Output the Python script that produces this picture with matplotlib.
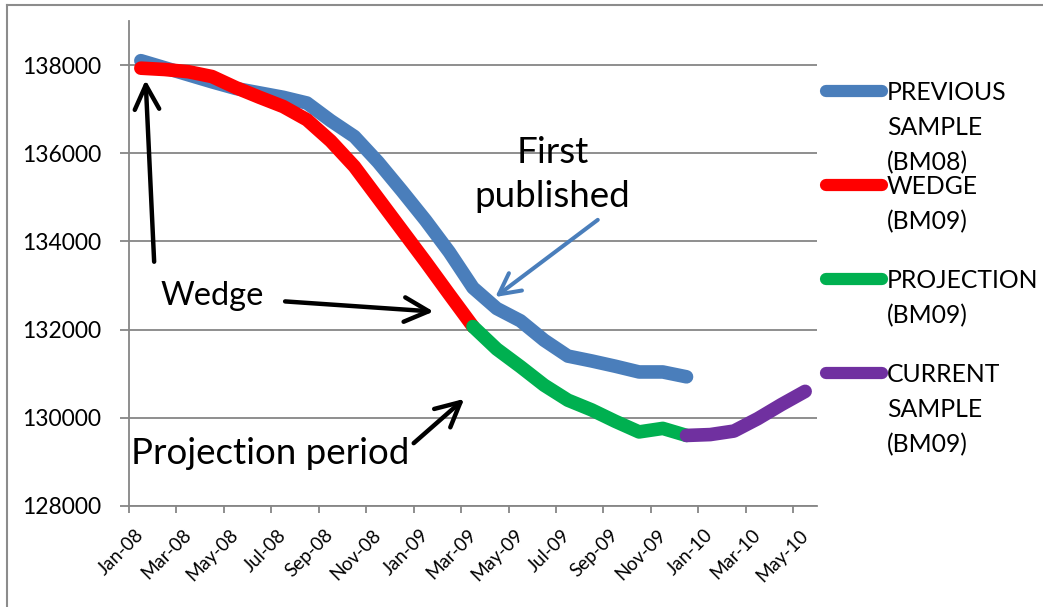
import numpy as np
import matplotlib
matplotlib.use("Agg")
import matplotlib.pyplot as plt
from matplotlib.lines import Line2D

plt.rcParams['font.family'] = ['Lato', 'DejaVu Sans']

# ---------------- data ----------------
months = ["Jan-08", "Feb-08", "Mar-08", "Apr-08", "May-08", "Jun-08", "Jul-08", "Aug-08",
          "Sep-08", "Oct-08", "Nov-08", "Dec-08", "Jan-09", "Feb-09", "Mar-09", "Apr-09",
          "May-09", "Jun-09", "Jul-09", "Aug-09", "Sep-09", "Oct-09", "Nov-09", "Dec-09",
          "Jan-10", "Feb-10", "Mar-10", "Apr-10", "May-10"]

previous_bm08 = [138100, 137940, 137780, 137620, 137470, 137370, 137270, 137140,
                 136740, 136380, 135800, 135150, 134480, 133760, 132950, 132480,
                 132200, 131760, 131400, 131290, 131170, 131040, 131040, 130930]
wedge_bm09 = [137930, 137900, 137850, 137740, 137490, 137270, 137060, 136760,
              136280, 135700, 134980, 134260, 133540, 132800, 132070]
projection_bm09 = [132070, 131560, 131160, 130740, 130400, 130180, 129920, 129680,
                   129760, 129600]
current_bm09 = [129600, 129620, 129700, 129980, 130300, 130600]

series_names = ["PREVIOUS\nSAMPLE\n(BM08)", "WEDGE\n(BM09)", "PROJECTION\n(BM09)",
                "CURRENT\nSAMPLE\n(BM09)"]
series_start = [0, 0, 14, 23]
series_values = [previous_bm08, wedge_bm09, projection_bm09, current_bm09]
colors = ["#4a7ebb", "#ff0000", "#00b050", "#7030a0"]

y_ticks = [128000, 130000, 132000, 134000, 136000, 138000]

# ---------------- figure ----------------
W, H = 1043, 607
fig = plt.figure(figsize=(W / 100, H / 100), dpi=100)

def fx(px):
    return px / W

def fy(py):
    return 1 - py / H

ax = fig.add_axes([fx(129), fy(506), fx(817) - fx(129), fy(21) - fy(506)])

grid_col = "#868686"
LW = 9.8
for start, vals, col in zip(series_start, series_values, colors):
    x = np.arange(start, start + len(vals))
    ax.plot(x, vals, color=col, lw=LW, solid_capstyle='round', solid_joinstyle='round',
            zorder=3)

ax.set_xlim(-0.5, len(months) - 0.5)
ax.set_ylim(128000, 139000)

ax.set_yticks(y_ticks)
ax.set_yticklabels([str(v) for v in y_ticks])
ax.yaxis.grid(True, color=grid_col, lw=1.3)
ax.set_axisbelow(True)

ax.set_xticks(np.arange(-0.5, len(months) - 1, 2))
ax.set_xticklabels([])
ax.set_xticks(np.arange(0, len(months), 2), minor=True)
ax.set_xticklabels(months[::2], minor=True, rotation=45, ha='right', va='center',
                   rotation_mode='anchor', fontsize=13.5)

ax.tick_params(axis='x', which='major', length=5, width=1.3, color=grid_col, direction='out')
ax.tick_params(axis='x', which='minor', length=0, pad=19)
ax.tick_params(axis='y', length=6.5, width=1.3, color=grid_col, pad=13.5, labelsize=16.5)

for s in ['top', 'right']:
    ax.spines[s].set_visible(False)
for s in ['left', 'bottom']:
    ax.spines[s].set_color(grid_col)
    ax.spines[s].set_linewidth(1.3)

# ---------------- annotations ----------------
black_arrow = dict(arrowstyle='->,head_length=1.75,head_width=0.88', lw=3.2, color='black',
                   shrinkA=0, shrinkB=0)
blue_arrow = dict(arrowstyle='->,head_length=1.5,head_width=0.78', lw=2.9, color='#4a7ebb',
                  shrinkA=0, shrinkB=0)

ax.annotate('', xy=(0.2, 137660), xytext=(0.56, 133540), arrowprops=black_arrow, zorder=5)
ax.annotate('', xy=(12.34, 132410), xytext=(6.08, 132640), arrowprops=black_arrow, zorder=5)
ax.annotate('', xy=(13.63, 130430), xytext=(11.5, 129425), arrowprops=black_arrow, zorder=5)
ax.annotate('', xy=(14.94, 132740), xytext=(19.26, 134490), arrowprops=blue_arrow, zorder=5)

ax.text(0.81, 132560, "Wedge", fontsize=23.5, ha='left', va='baseline', zorder=6)
ax.text(-0.42, 128955, "Projection period", fontsize=26.5, ha='left', va='baseline', zorder=6)
ax.text(17.35, 135773, "First", fontsize=26.5, ha='center', va='baseline', zorder=6)
ax.text(17.35, 134782, "published", fontsize=26.5, ha='center', va='baseline', zorder=6)

# ---------------- legend (manual) ----------------
first_baselines = [100, 194, 288, 382]
for name, col, base in zip(series_names, colors, first_baselines):
    ly = base - 8.8
    fig.add_artist(Line2D([fx(826), fx(882)], [fy(ly), fy(ly)], color=col, lw=8.8,
                          solid_capstyle='round'))
    for k, line in enumerate(name.split("\n")):
        fig.text(fx(887), fy(base + 35.3 * k), line, fontsize=17.8, ha='left',
                 va='baseline')

# chart outer frame (left and top edges)
fig.add_artist(Line2D([fx(7), fx(7)], [fy(5), 0], color="#8c8c8c", lw=1.5))
fig.add_artist(Line2D([fx(7), 1], [fy(5), fy(5)], color="#8c8c8c", lw=1.5))

fig.savefig("out.png", dpi=100)
